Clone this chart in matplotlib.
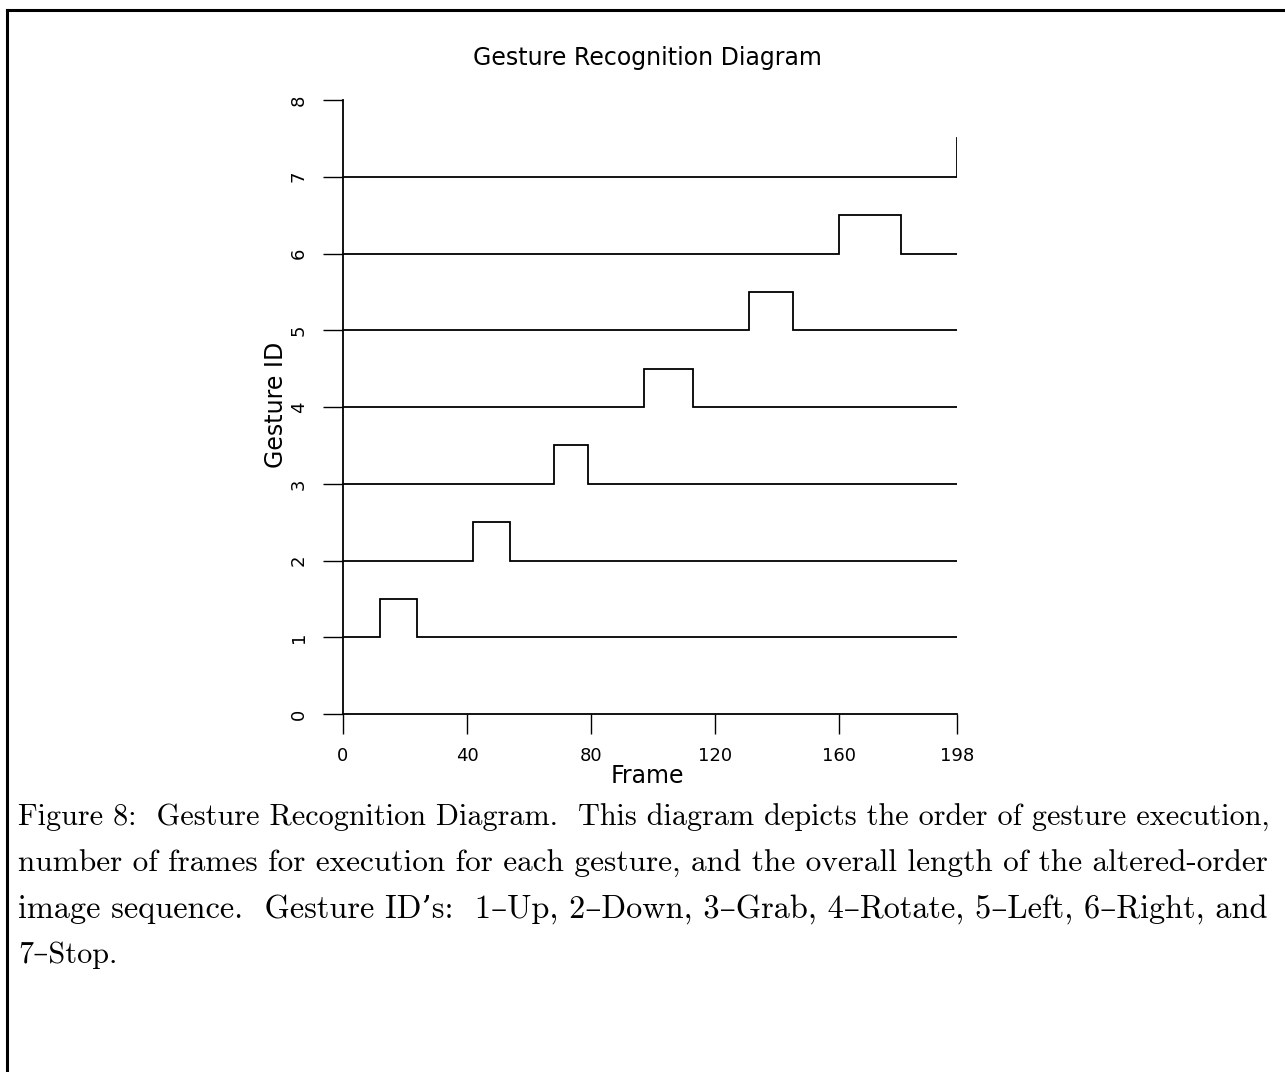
import matplotlib
matplotlib.use("Agg")
import matplotlib.pyplot as plt
from matplotlib.lines import Line2D

# ---- data ----
gesture_ids = [1, 2, 3, 4, 5, 6]
pulse_start = [12, 42, 68, 97, 131, 160]
pulse_end = [24, 54, 79, 113, 145, 180]
stop_id = 7
stop_start = 198
n_frames = 198
pulse_height = 0.5
x_ticks = [0, 40, 80, 120, 160, 198]
y_ticks = [0, 1, 2, 3, 4, 5, 6, 7, 8]

title = "Gesture Recognition Diagram"
xlabel = "Frame"
ylabel = "Gesture ID"
caption_lines = [
    "Figure 8:  Gesture Recognition Diagram.  This diagram depicts the order of gesture execution,",
    "number of frames for execution for each gesture, and the overall length of the altered-order",
    "image sequence.  Gesture ID\u2019s:  1\u2013Up, 2\u2013Down, 3\u2013Grab, 4\u2013Rotate, 5\u2013Left, 6\u2013Right, and",
    "7\u2013Stop.",
]

W, H = 1285, 1072
fig = plt.figure(figsize=(W / 100, H / 100), dpi=100)
fig.patch.set_facecolor("white")

ax = fig.add_axes([343 / W, 1 - 714 / H, 614 / W, 614 / H])
lw = 1.3
for g, s, e in zip(gesture_ids, pulse_start, pulse_end):
    xs = [0, s, s, e, e, n_frames]
    ys = [g, g, g + pulse_height, g + pulse_height, g, g]
    ax.plot(xs, ys, color="black", lw=lw, solid_joinstyle="miter")
ax.plot([0, stop_start, stop_start], [stop_id, stop_id, stop_id + pulse_height],
        color="black", lw=lw, solid_joinstyle="miter")

ax.set_xlim(0, n_frames)
ax.set_ylim(0, 8)
ax.set_xticks(x_ticks)
ax.set_xticklabels([str(t) for t in x_ticks])
ax.set_yticks(y_ticks)
ax.set_yticklabels([str(t) for t in y_ticks])
ax.spines["top"].set_visible(False)
ax.spines["right"].set_visible(False)
for sp in ("left", "bottom"):
    ax.spines[sp].set_linewidth(1.3)
ax.tick_params(axis="both", direction="out", length=14.5, width=1.0,
               labelsize=13, pad=9)
ax.tick_params(axis="y", labelrotation=90, pad=11)
for lab in ax.get_yticklabels():
    lab.set_va("center")
ax.patch.set_alpha(0)

fig.text(647 / W, 1 - 58 / H, title, ha="center", va="center",
         fontsize=17, family="DejaVu Sans")
fig.text(647 / W, 1 - 776 / H, xlabel, ha="center", va="center",
         fontsize=17, family="DejaVu Sans")
fig.text(276 / W, 1 - 405 / H, ylabel, ha="center", va="center",
         fontsize=17, rotation=90, family="DejaVu Sans")

# caption: fit the justified lines to the text block width
left_px, right_px = 18, 1270
baselines = [826, 872, 918, 963]
base_size = 20
fig.canvas.draw()
renderer = fig.canvas.get_renderer()
texts = []
for line, b in zip(caption_lines, baselines):
    t = fig.text(left_px / W, 1 - b / H, line, ha="left", va="baseline",
                 fontsize=base_size, family=["cmr10", "DejaVu Serif"])
    texts.append(t)
widths = [t.get_window_extent(renderer).width for t in texts]
size = base_size * (right_px - left_px) / widths[0]
for i, t in enumerate(texts):
    if i < len(texts) - 1:
        t.set_fontsize(base_size * (right_px - left_px) / widths[i])
    else:
        t.set_fontsize(size)

# figure frame lines (top and left)
fig.add_artist(Line2D([7 / W, 1], [1 - 10 / H, 1 - 10 / H], color="black",
                      lw=2.2, transform=fig.transFigure))
fig.add_artist(Line2D([7 / W, 7 / W], [0, 1 - 10 / H], color="black",
                      lw=2.2, transform=fig.transFigure))

fig.savefig("out.png", dpi=100, facecolor="white")
